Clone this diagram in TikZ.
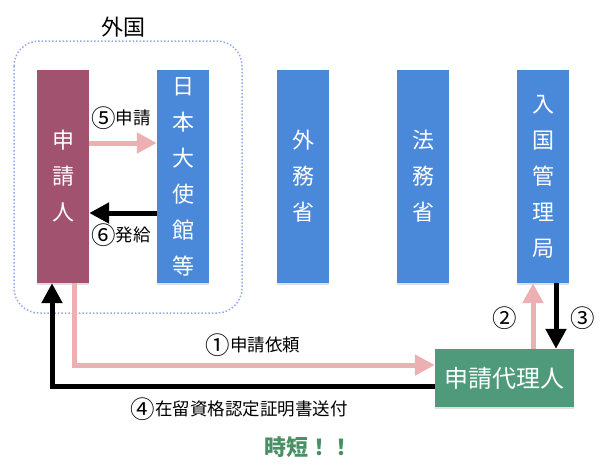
\documentclass[tikz,border=0pt]{standalone}
\usepackage{fontspec}
\setmainfont{Noto Sans CJK JP}
\usepackage{xcolor}
\usetikzlibrary{arrows.meta,shadows}

\definecolor{applicantred}{HTML}{A0526F}
\definecolor{officeblue}{HTML}{4A88DA}
\definecolor{agentgreen}{HTML}{4E9A7A}
\definecolor{flowpink}{HTML}{EDB0B2}
\definecolor{abroadblue}{HTML}{8FA8F0}
\definecolor{fastgreen}{HTML}{4A9064}

% circled step number, drawn full size
\newcommand{\maru}[1]{\raisebox{-0.14em}{\scalebox{1.4}{#1}}}

\begin{document}
\begin{tikzpicture}[x=1pt, y=1pt, every node/.style={inner sep=0pt, font=\fontsize{17.5}{20}\selectfont},
  office/.style={rectangle, fill=officeblue, text=white, minimum width=52pt, minimum height=213pt, align=center, font=\fontsize{22}{36}\selectfont, drop shadow={shadow xshift=0pt, shadow yshift=-1.5pt, opacity=0.25}},
  pinkarrow/.style={draw=flowpink, line width=5pt, -{Triangle[width=20pt,length=20pt]}},
  blackarrow/.style={draw=black, line width=5pt, -{Triangle[width=20pt,length=20pt]}}]

\useasboundingbox (0,0) rectangle (602,-472);

% Abroad
\draw[abroadblue, dotted, line width=1.5pt, rounded corners=25pt] (14,-41) rectangle (242,-313);
\node (abroad) at (123,-27) {\fontsize{22}{24}\selectfont 外国};

% Offices
\node[office, fill=applicantred] (applicant) at (63,-176.5) {申\\請\\人};
\node[office] (embassy) at (183,-176.5) {日\\本\\大\\使\\館\\等};
\node[office] (mofa) at (303,-176.5) {外\\務\\省};
\node[office] (moj) at (423,-176.5) {法\\務\\省};
\node[office] (immig) at (543,-176.5) {入\\国\\管\\理\\局};

% Agent
\node[rectangle, fill=agentgreen, text=white, minimum width=139pt, minimum height=58pt, font=\fontsize{24}{26}\selectfont, drop shadow={shadow xshift=0pt, shadow yshift=-1.5pt, opacity=0.25}] (agent) at (504.5,-378) {申請代理人};

% Arrows
\draw[pinkarrow] ([yshift=33.5pt]applicant.east) -- ([yshift=33.5pt]embassy.west);
\draw[blackarrow] ([yshift=-36.5pt]embassy.west) -- ([yshift=-36.5pt]applicant.east);
\draw[pinkarrow] ([xshift=11pt]applicant.south) |- ([yshift=13pt]agent.west);
\draw[blackarrow] ([yshift=-8pt]agent.west) -| ([xshift=-11pt]applicant.south);
\draw[pinkarrow] ([xshift=28.5pt]agent.north) -- ([xshift=-10pt]immig.south);
\draw[blackarrow] ([xshift=13pt]immig.south) -- ([xshift=13pt]immig.south |- agent.north);

% Labels
\node (l5) at (121,-118) {\maru{⑤}申請};
\node (l6) at (121,-235) {\maru{⑥}発給};
\node (l1) at (253,-345) {\maru{①}申請依頼};
\node (l4) at (239,-409) {\maru{④}在留資格認定証明書送付};
\node (l2) at (505,-318) {\maru{②}};
\node (l3) at (583,-318) {\maru{③}};
\node[text=fastgreen, font=\fontsize{22}{24}\selectfont\bfseries] (fast) at (308,-447) {時短！！};

\end{tikzpicture}
\end{document}
